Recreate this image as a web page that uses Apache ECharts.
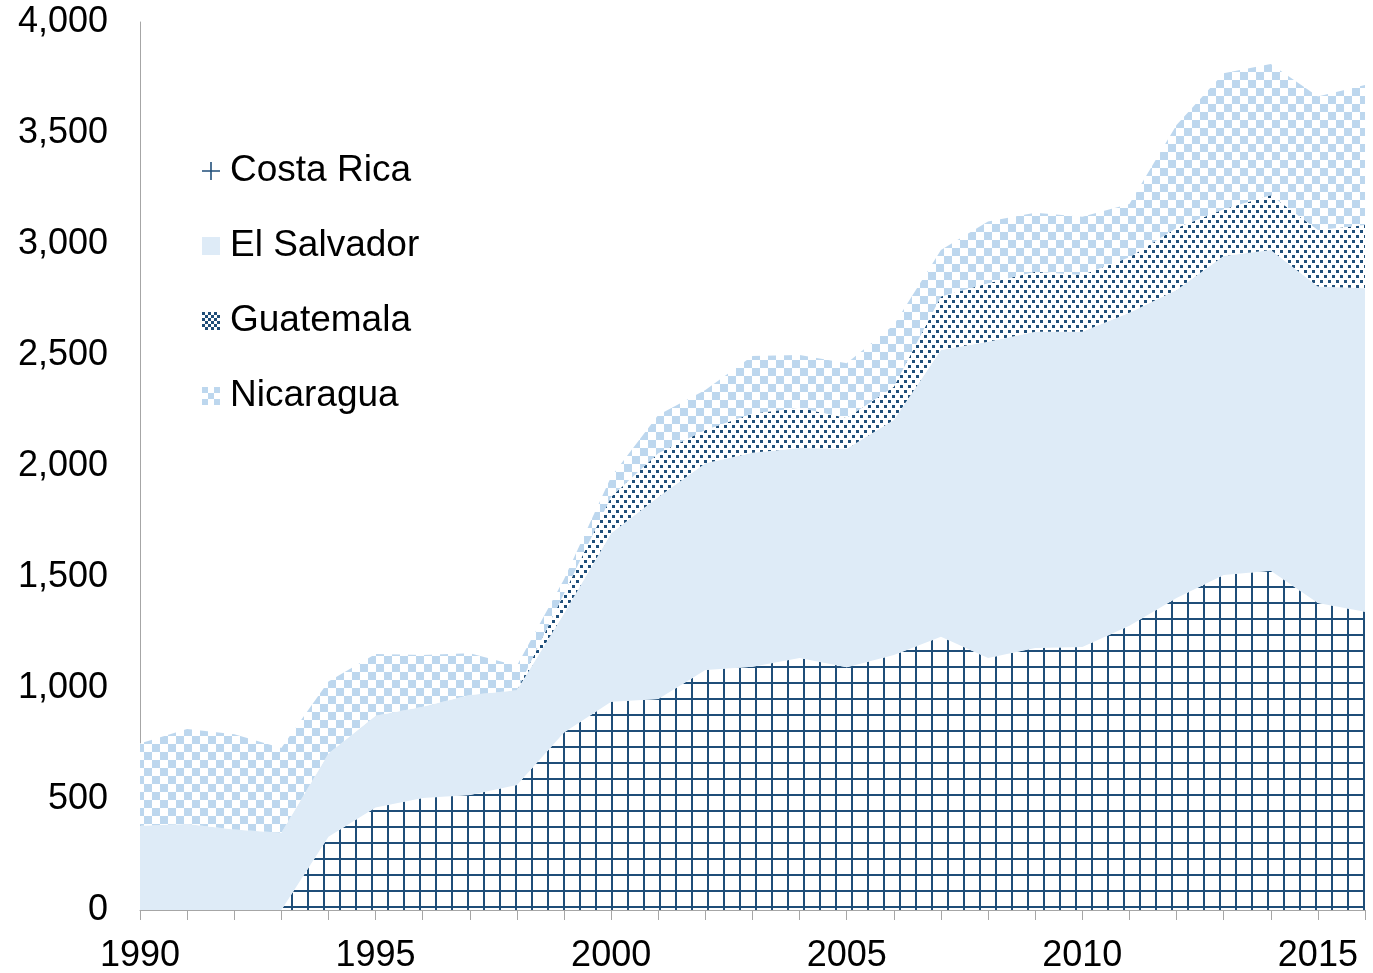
<!DOCTYPE html>
<html>
<head>
<meta charset="utf-8">
<script src="https://cdn.jsdelivr.net/npm/echarts@6/dist/echarts.min.js"></script>
<style>
html,body{margin:0;padding:0;background:#ffffff;}
#chart{width:1373px;height:973px;}
</style>
</head>
<body>
<div id="chart"></div>
<script>
// ---- data ----
const years = ['1990','1991','1992','1993','1994','1995','1996','1997','1998','1999',
  '2000','2001','2002','2003','2004','2005','2006','2007','2008','2009',
  '2010','2011','2012','2013','2014','2015','2016'];
const costaRica  = [0,0,0,0,330,462,505,518,563,800,938,950,1081,1096,1135,1094,1149,1231,1135,1180,1185,1280,1405,1509,1528,1383,1344];
const elSalvador = [380,387,363,348,375,413,411,450,427,536,759,910,931,964,946,984,1058,1291,1425,1425,1420,1410,1388,1437,1445,1425,1457];
const guatemala  = [0,0,0,0,0,0,0,0,0,90,165,197,150,177,181,138,150,241,263,270,255,250,279,211,247,255,285];
const nicaragua  = [370,428,429,382,324,278,233,188,110,64,90,173,180,258,238,247,278,210,278,266,263,240,464,612,591,601,630];
const seriesNames = ['Costa Rica','El Salvador','Guatemala','Nicaragua'];
const yTicks = {min:0, max:4000, interval:500};

// ---- patterns ----
const DARK = '#1F4E79', LIGHT = '#DEEBF7', MID = '#BDD7EE';
function makePattern(w, h, draw){
  const c = document.createElement('canvas');
  c.width = w; c.height = h;
  const g = c.getContext('2d');
  g.fillStyle = '#ffffff';
  g.fillRect(0,0,w,h);
  draw(g);
  return {image: c, repeat: 'repeat'};
}
const gridPattern = makePattern(16,16,g=>{g.fillStyle=DARK;g.fillRect(3,0,2,16);g.fillRect(0,10,16,2);});
const dotPattern = makePattern(8,10,g=>{g.fillStyle=DARK;g.fillRect(0,0,3,3);g.fillRect(4,5,3,3);});
const checkPattern = makePattern(16,16,g=>{g.fillStyle=MID;g.fillRect(0,0,8,8);g.fillRect(8,8,8,8);});
const legendDotPattern = makePattern(6,6,g=>{g.fillStyle=DARK;g.fillRect(0,0,3,3);g.fillRect(3,3,3,3);});
const legendCheckPattern = makePattern(12,12,g=>{g.fillStyle=MID;g.fillRect(0,0,6,6);g.fillRect(6,6,6,6);});

const FONT = '"Liberation Sans", Arial, sans-serif';

function areaSeries(name, data, fill, baseColor){
  return {
    name: name, type: 'line', stack: 'total', data: data,
    symbol: 'none', smooth: false,
    lineStyle: {width: 0},
    itemStyle: {color: baseColor},
    areaStyle: {color: fill, opacity: 1},
    emphasis: {disabled: true}
  };
}

const chart = echarts.init(document.getElementById('chart'), null, {renderer:'canvas'});
chart.setOption({
  animation: false,
  backgroundColor: '#ffffff',
  grid: {left:140, right:8, top:22, bottom:63, containLabel:false, outerBoundsMode:'none'},
  legend: {
    orient: 'vertical', left: 202, top: 151, padding: 0,
    itemWidth: 18, itemHeight: 18, itemGap: 35,
    selectedMode: false,
    itemStyle: {borderWidth: 0},
    textStyle: {fontFamily: FONT, fontSize: 37, color: '#000000', lineHeight: 40, padding: [0,0,0,5]},
    data: [
      {name: seriesNames[0], icon: 'path://M0,7.3H16V8.7H0Z M7.3,0H8.7V16H7.3Z', itemStyle: {color: DARK, borderWidth: 0}},
      {name: seriesNames[1], icon: 'rect', itemStyle: {color: LIGHT, borderWidth: 0}},
      {name: seriesNames[2], icon: 'rect', itemStyle: {color: legendDotPattern, borderWidth: 0}},
      {name: seriesNames[3], icon: 'rect', itemStyle: {color: legendCheckPattern, borderWidth: 0}}
    ]
  },
  xAxis: {
    type: 'category', data: years, boundaryGap: false,
    axisLine: {show: true, lineStyle: {color: '#A6A6A6', width: 1}},
    axisTick: {show: true, interval: 0, length: 10, lineStyle: {color: '#A6A6A6'}},
    axisLabel: {
      interval: function(i){ return i % 5 === 0; },
      fontFamily: FONT, fontSize: 36, color: '#000000', margin: 28
    },
    splitLine: {show: false}
  },
  yAxis: {
    type: 'value', min: yTicks.min, max: yTicks.max, interval: yTicks.interval,
    axisLine: {show: true, lineStyle: {color: '#A6A6A6', width: 1}},
    axisTick: {show: false},
    axisLabel: {
      fontFamily: FONT, fontSize: 36, color: '#000000', margin: 32,
      formatter: v => v.toLocaleString('en-US')
    },
    splitLine: {show: false}
  },
  series: [
    areaSeries(seriesNames[0], costaRica, gridPattern, DARK),
    areaSeries(seriesNames[1], elSalvador, LIGHT, LIGHT),
    areaSeries(seriesNames[2], guatemala, dotPattern, DARK),
    areaSeries(seriesNames[3], nicaragua, checkPattern, MID)
  ]
});
</script>
</body>
</html>
